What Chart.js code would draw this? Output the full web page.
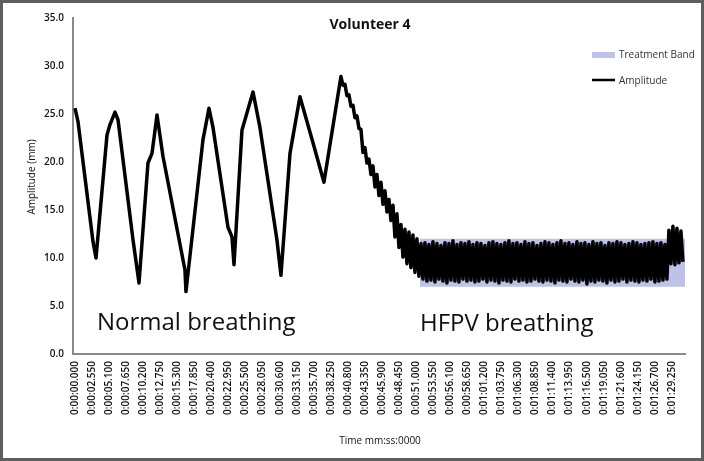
<!DOCTYPE html>
<html>
<head>
<meta charset="utf-8">
<title>Volunteer 4</title>
<script src="https://cdn.jsdelivr.net/npm/chart.js@4/dist/chart.umd.min.js"></script>
<style>
  html, body { margin: 0; padding: 0; background: #fff; }
  #chart { display: block; }
</style>
</head>
<body>
<canvas id="chart" width="704" height="461"></canvas>
<script>
// x axis ticks (seconds) and their printed labels
const tickTimes = [0, 2.55, 5.1, 7.65, 10.2, 12.75, 15.3, 17.85, 20.4, 22.95, 25.5, 28.05,
  30.6, 33.15, 35.7, 38.25, 40.8, 43.35, 45.9, 48.45, 51, 53.55, 56.1, 58.65,
  61.2, 63.75, 66.3, 68.85, 71.4, 73.95, 76.5, 79.05, 81.6, 84.15, 86.7, 89.25];
const tickLabels = ['0:00:00.000', '0:00:02.550', '0:00:05.100', '0:00:07.650', '0:00:10.200',
  '0:00:12.750', '0:00:15.300', '0:00:17.850', '0:00:20.400', '0:00:22.950', '0:00:25.500',
  '0:00:28.050', '0:00:30.600', '0:00:33.150', '0:00:35.700', '0:00:38.250', '0:00:40.800',
  '0:00:43.350', '0:00:45.900', '0:00:48.450', '0:00:51.000', '0:00:53.550', '0:00:56.100',
  '0:00:58.650', '0:01:01.200', '0:01:03.750', '0:01:06.300', '0:01:08.850', '0:01:11.400',
  '0:01:13.950', '0:01:16.500', '0:01:19.050', '0:01:21.600', '0:01:24.150', '0:01:26.700',
  '0:01:29.250'];
const yTicks = [0, 5, 10, 15, 20, 25, 30, 35];

// normal breathing: turning points
const normalTimes = [0, 0.45, 2.69, 3.14, 4.78, 5.23, 5.98, 6.43, 8.67, 9.57, 10.91, 11.51,
  12.26, 13.15, 16.44, 16.59, 19.13, 20.03, 20.63, 22.87, 23.47, 23.77, 24.96, 26.61,
  27.65, 30.19, 30.79, 32.14, 33.63, 35.58, 37.22, 39.76];
const normalValues = [25.6, 24.2, 11.7, 10.0, 22.8, 23.9, 25.2, 24.4, 11.9, 7.4, 19.9, 20.9,
  24.9, 20.6, 8.75, 6.5, 22.3, 25.6, 23.6, 13.2, 12.2, 9.3, 23.3, 27.3,
  23.6, 11.9, 8.2, 20.9, 26.8, 22.0, 17.9, 28.9];

// HFPV part: evenly sampled peaks/troughs after the last normal breath
const hfpvStart = 40.06;
const hfpvStep = 0.299;
const hfpvValues = [
  28.0, 28.1, 26.9, 27.0, 25.8, 25.9, 24.6, 24.8, 23.5,
  23.4, 21.0, 21.5, 19.9, 20.3, 18.7,
  19.6, 17.4, 18.7, 16.5, 17.9, 15.6, 17.0, 14.8, 16.1, 13.9,
  15.5, 12.2, 14.6, 11.1, 13.5, 10.1,
  13.0, 9.4, 12.7, 9.0, 12.4, 8.5, 12.0, 8.1,
  11.5, 7.8, 11.6, 7.6, 11.4, 7.7, 11.7, 7.5, 11.5, 7.8, 11.3, 7.6, 11.6, 7.4, 11.5, 7.7, 11.8, 7.6, 11.4, 7.5,
  11.6, 7.8, 11.5, 7.6, 11.7, 7.7, 11.4, 7.5, 11.6, 7.6, 11.5, 7.8, 11.3, 7.5, 11.6, 7.7, 11.7, 7.6, 11.5, 7.4,
  11.4, 7.7, 11.6, 7.6, 11.8, 7.5, 11.5, 7.8, 11.6, 7.6, 11.4, 7.7, 11.7, 7.5, 11.5, 7.6, 11.6, 7.8, 11.3, 7.6,
  11.5, 7.5, 11.7, 7.7, 11.6, 7.6, 11.4, 7.4, 11.6, 7.7, 11.8, 7.6, 11.5, 7.5, 11.6, 7.8, 11.4, 7.6, 11.7, 7.5,
  11.5, 7.7, 11.6, 7.3, 11.4, 7.6, 11.7, 7.5, 11.5, 7.7, 11.6, 7.6, 11.3, 7.4, 11.6, 7.7, 11.5, 7.5, 11.7, 7.6,
  11.6, 7.8, 11.4, 7.5, 11.5, 7.7, 11.7, 7.6, 11.6, 7.5, 11.4, 7.7, 11.5, 7.6, 11.6, 7.8, 11.7, 7.5, 11.5, 7.6,
  11.6, 7.7, 11.4, 7.8,
  12.9, 9.4, 13.3, 9.3, 13.1, 9.5, 12.8, 9.6
];

// treatment band
const bandTimes = [51.57, 91.2];
const bandLow = 7.0;
const bandHigh = 12.0;

const BAND_COLOR = '#bec2e8';
const FONT = '"Open Sans", "Liberation Sans", sans-serif';

const textPlugin = {
  id: 'textPlugin',
  afterDraw(chart) {
    const ctx = chart.ctx;
    ctx.save();
    ctx.fillStyle = '#111';
    ctx.textBaseline = 'middle';

    ctx.font = 'bold 14px ' + FONT;
    ctx.textAlign = 'center';
    ctx.fillText('Volunteer 4', 370, 25);

    ctx.font = '10px ' + FONT;
    ctx.fillText('Time mm:ss:0000', 380, 441);

    ctx.save();
    ctx.translate(32, 177);
    ctx.rotate(-Math.PI / 2);
    ctx.fillText('Amplitude (mm)', 0, 0);
    ctx.restore();

    // legend
    ctx.textAlign = 'left';
    ctx.fillStyle = BAND_COLOR;
    ctx.fillRect(592, 52, 23, 6);
    ctx.strokeStyle = '#000';
    ctx.lineWidth = 2.5;
    ctx.beginPath();
    ctx.moveTo(592, 80);
    ctx.lineTo(615, 80);
    ctx.stroke();
    ctx.fillStyle = '#333';
    ctx.font = '10px ' + FONT;
    ctx.fillText('Treatment Band', 619, 55);
    ctx.fillText('Amplitude', 619, 81);

    ctx.fillStyle = '#111';
    ctx.font = '24px ' + FONT;
    ctx.textBaseline = 'alphabetic';
    ctx.fillText('Normal breathing', 97, 330);
    ctx.fillText('HFPV breathing', 420, 331);

    // outer frame
    ctx.strokeStyle = '#5e5e5e';
    ctx.lineWidth = 3;
    ctx.strokeRect(1.5, 1.5, 701, 458);
    ctx.restore();
  }
};

document.addEventListener('DOMContentLoaded', () => {
  const amplitude = normalTimes.map((t, i) => ({ x: t, y: normalValues[i] }));
  hfpvValues.forEach((v, i) => amplitude.push({ x: hfpvStart + i * hfpvStep, y: v }));

  const band = bandTimes.map(t => ({ x: t, y: bandHigh }));

  new Chart(document.getElementById('chart'), {
    type: 'line',
    data: {
      datasets: [{
        label: 'Treatment Band',
        data: band,
        order: 2,
        borderWidth: 0,
        pointRadius: 0,
        backgroundColor: BAND_COLOR,
        fill: { value: bandLow }
      }, {
        label: 'Amplitude',
        data: amplitude,
        order: 1,
        borderColor: '#000',
        borderWidth: 3.5,
        borderJoinStyle: 'round',
        pointRadius: 0,
        tension: 0,
        fill: false
      }]
    },
    options: {
      responsive: false,
      animation: false,
      layout: { padding: { top: 18, right: 19, left: 0, bottom: 0 } },
      plugins: {
        legend: { display: false },
        tooltip: { enabled: false }
      },
      scales: {
        x: {
          type: 'linear',
          min: -0.3,
          max: 91.2,
          grid: { display: false, drawTicks: false },
          border: { display: true, color: '#8a8a8a', width: 2 },
          afterBuildTicks: (scale) => { scale.ticks = tickTimes.map(v => ({ value: v })); },
          afterFit: (scale) => { scale.height = 107; },
          ticks: {
            autoSkip: false,
            minRotation: 90,
            maxRotation: 90,
            padding: 7,
            color: '#111',
            font: { family: FONT, size: 10, weight: '600' },
            callback: (value, index) => tickLabels[index]
          }
        },
        y: {
          min: 0,
          max: 35,
          grid: { display: false, drawTicks: false },
          border: { display: true, color: '#8a8a8a', width: 2 },
          afterBuildTicks: (scale) => { scale.ticks = yTicks.map(v => ({ value: v })); },
          afterFit: (scale) => { scale.width = 73; },
          ticks: {
            padding: 9,
            color: '#111',
            font: { family: FONT, size: 10, weight: '600' },
            callback: (value) => Number(value).toFixed(1)
          }
        }
      }
    },
    plugins: [textPlugin]
  });
});
</script>
</body>
</html>
